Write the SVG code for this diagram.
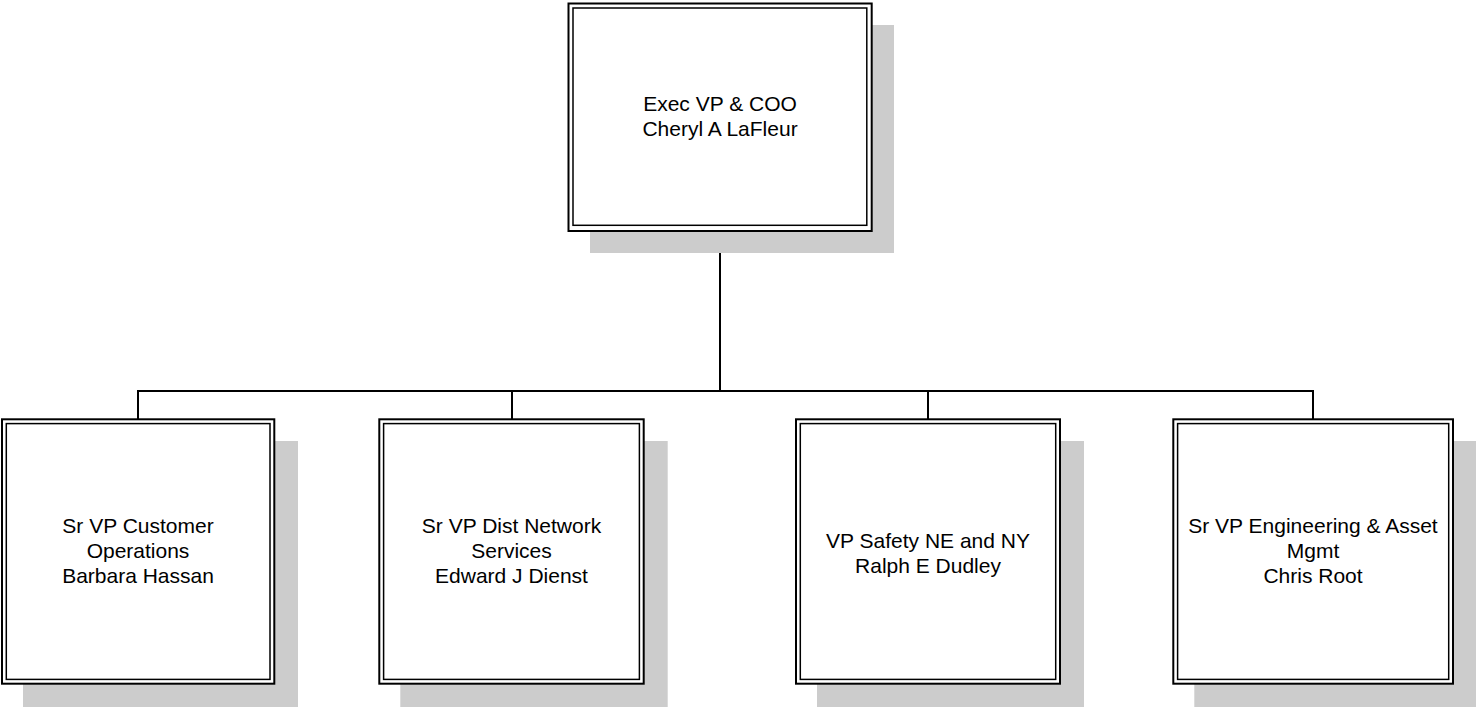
<svg xmlns="http://www.w3.org/2000/svg" width="1476" height="707" viewBox="0 0 1476 707">
<style>
.shadow{fill:#cccccc;stroke:none}
.outer{fill:#ffffff;stroke:#000000;stroke-width:2}
.inner{fill:none;stroke:#000000;stroke-width:1.5}
.conn{fill:none;stroke:#000000;stroke-width:2}
text{font-family:"Liberation Sans",Arial,sans-serif;font-size:21px;fill:#000000;text-anchor:middle}
</style>
<rect width="1476" height="707" fill="#ffffff"/>
<g id="connectors">
<line class="conn" x1="720" y1="232" x2="720" y2="391"/>
<line class="conn" x1="137" y1="391" x2="1314" y2="391"/>
<line class="conn" x1="138" y1="391" x2="138" y2="419"/>
<line class="conn" x1="512" y1="391" x2="512" y2="419"/>
<line class="conn" x1="928" y1="391" x2="928" y2="419"/>
<line class="conn" x1="1313" y1="391" x2="1313" y2="419"/>
</g>
<g id="node-coo">
<rect class="shadow" x="590" y="25" width="304" height="228"/>
<rect class="outer" x="568.5" y="3.5" width="303.2" height="227.5"/>
<rect class="inner" x="573" y="8" width="293.8" height="217.3"/>
<text x="720" y="111">Exec VP &amp; COO</text>
<text x="720" y="136">Cheryl A LaFleur</text>
</g>
<g id="node-customer-ops">
<rect class="shadow" x="23" y="441" width="275" height="266"/>
<rect class="outer" x="2" y="419.3" width="272.3" height="264.4"/>
<rect class="inner" x="6.3" y="423.6" width="263.7" height="255.8"/>
<text x="138" y="532.7">Sr VP Customer</text>
<text x="138" y="557.7">Operations</text>
<text x="138" y="582.7">Barbara Hassan</text>
</g>
<g id="node-dist-network">
<rect class="shadow" x="400.3" y="441" width="267.4" height="266"/>
<rect class="outer" x="379.3" y="419.3" width="264.4" height="264.4"/>
<rect class="inner" x="383.6" y="423.6" width="255.8" height="255.8"/>
<text x="511.5" y="532.7">Sr VP Dist Network</text>
<text x="511.5" y="557.7">Services</text>
<text x="511.5" y="582.7">Edward J Dienst</text>
</g>
<g id="node-safety">
<rect class="shadow" x="817" y="441" width="267" height="266"/>
<rect class="outer" x="796" y="419.3" width="264" height="264.4"/>
<rect class="inner" x="800.3" y="423.6" width="255.4" height="255.8"/>
<text x="928" y="547.5">VP Safety NE and NY</text>
<text x="928" y="572.5">Ralph E Dudley</text>
</g>
<g id="node-engineering">
<rect class="shadow" x="1194.3" y="441" width="282" height="266"/>
<rect class="outer" x="1173.3" y="419.3" width="279.7" height="264.4"/>
<rect class="inner" x="1177.6" y="423.6" width="271.1" height="255.8"/>
<text x="1313" y="532.7">Sr VP Engineering &amp; Asset</text>
<text x="1313" y="557.7">Mgmt</text>
<text x="1313" y="582.7">Chris Root</text>
</g>
</svg>
